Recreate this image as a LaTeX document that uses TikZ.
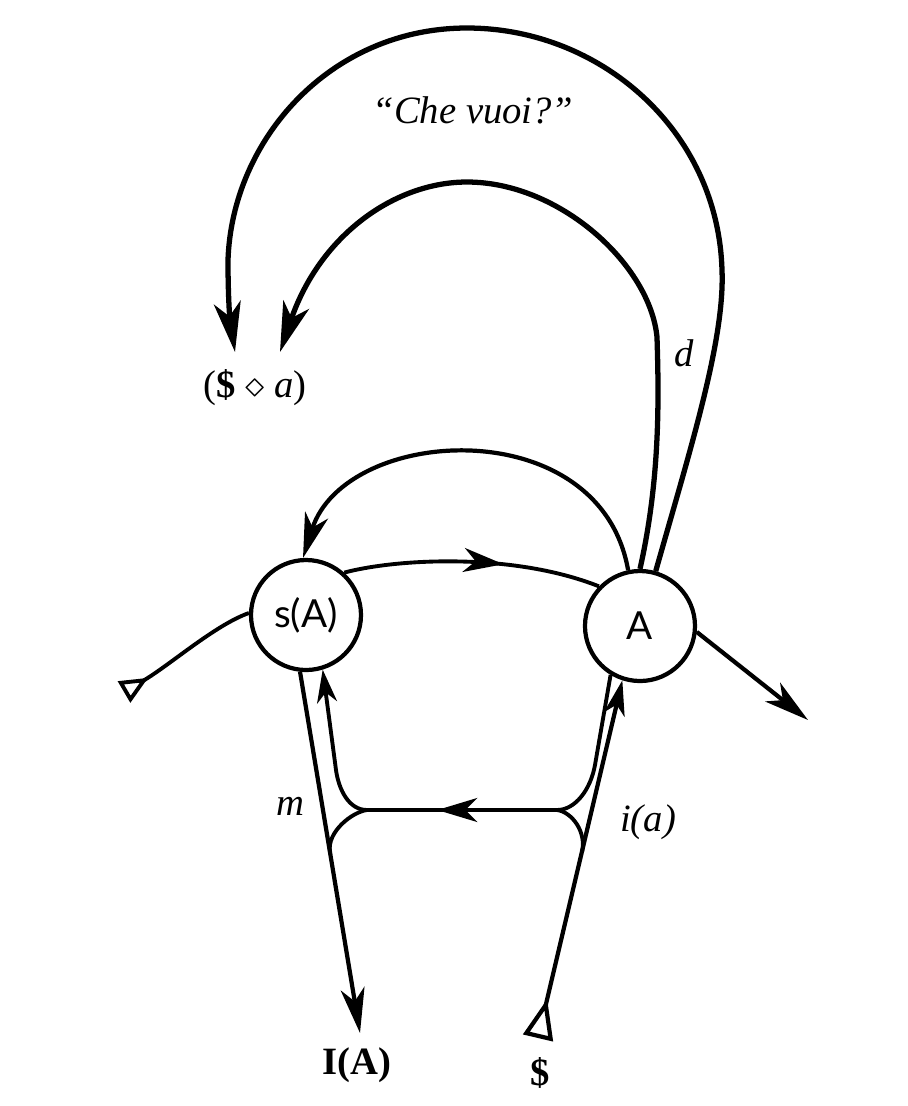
\documentclass[tikz,border=0pt]{standalone}
\usepackage{fontspec}
\setmainfont{Liberation Serif}
\setsansfont{Lato}
\usetikzlibrary{arrows.meta, decorations.markings}

\begin{document}
\begin{tikzpicture}[x=0.1mm, y=-0.1mm,
        lugar/.style={draw, circle, line width=1.2pt, minimum size=11mm, inner sep=0pt,
            fill=white, font=\sffamily\fontsize{11}{13}\selectfont},
        lbl/.style={font=\fontsize{11}{13}\selectfont},
        cadena/.style={line width=1.1pt},
        vec/.style={line width=1.2pt, -{Stealth[length=4.5mm, width=2.4mm, inset=1.3mm]}},
        vecb/.style={line width=1.5pt, -{Stealth[length=5mm, width=2.7mm, inset=1.4mm]}},
        vecs/.style={line width=1.1pt, -{Stealth[length=3.3mm, width=2mm, inset=1mm]}},
        midarrow/.style={postaction={decorate}, decoration={markings,
            mark=at position #1 with {\arrow{Stealth[length=4mm, width=2.4mm, inset=1.2mm]}}}}
    ]
        \useasboundingbox (0,0) rectangle (907,1106);

        % places
        \node[lugar] (sA) at (306,615) {s(A)};
        \node[lugar] (bA) at (640,626) {A};

        % texts
        \node[lbl, font=\fontsize{11}{13}\selectfont\itshape] (che) at (473,110) {``Che vuoi?''};
        \node[lbl] (fant) at (255,388) {(\textbf{\$} $\diamond$ \textit{a})};
        \node[lbl] (m) at (290,806) {\textit{m}};
        \node[lbl] (ia) at (648,822) {\textit{i(a)}};
        \node[lbl] (d) at (684,353) {\textit{d}};
        \node[lbl] (IA) at (357,1065) {\textbf{I(A)}};
        \node[lbl] (S) at (540,1073) {\textbf{\$}};

        % free ends and junctions
        \coordinate (triL) at (124,692);
        \coordinate (triS) at (538,1038);
        \coordinate (outR) at (808,720);
        \coordinate (tipOut) at (235,352);
        \coordinate (tipIn) at (280,352);
        \coordinate (tipIA) at (360,1033);
        \coordinate (jL) at (367,810);
        \coordinate (jR) at (557,810);
        \coordinate (mL) at (330,852);
        \coordinate (mR) at (582,852);

        % signifying chain
        \draw[cadena, {Triangle[open, reversed, length=2.8mm, width=2.4mm]}-] (triL) .. controls (170,665) and (215,625) .. (sA.178);
        \draw[cadena, midarrow=0.62] (sA.48) .. controls (400,558) and (515,553) .. (bA.136);
        \draw[vec] (bA.354) -- (outR);
        \draw[vec] (bA.102) .. controls (600,410) and (345,425) .. (sA.93);

        % upper arcs
        \draw[vecb] (bA.90) .. controls (660,480) and (659,400) .. (657,337)
            .. controls (650,265) and (560,182) .. (467,182)
            .. controls (395,182) and (320,235) .. (tipIn);
        \draw[vecb] (bA.74) .. controls (690,450) and (725,340) .. (722,270)
            .. controls (718,130) and (600,28) .. (467,28)
            .. controls (330,28) and (232,140) .. (228,260)
            .. controls (228,300) and (230,320) .. (tipOut);

        % lower part
        \draw[vec] (sA.264) -- (tipIA);
        \draw[line width=1.2pt, {Triangle[open, reversed, length=4mm, width=3mm]}-{Stealth[length=3.5mm, width=2.1mm, inset=1mm]}] (triS) -- (bA.252);
        \draw[cadena, midarrow=0.63] (jR) -- (jL);
        \draw[vecs] (jL) .. controls (349,810) and (338.8,790) .. (336,770) -- (sA.287);
        \draw[cadena] (jL) .. controls (352,812) and (326.7,832) .. (mL);
        \draw[cadena] (jR) .. controls (575,810) and (590.5,790) .. (595,765) -- (bA.239);
        \draw[cadena] (jR) .. controls (572,812) and (586.7,832) .. (mR);
    \end{tikzpicture}
\end{document}
